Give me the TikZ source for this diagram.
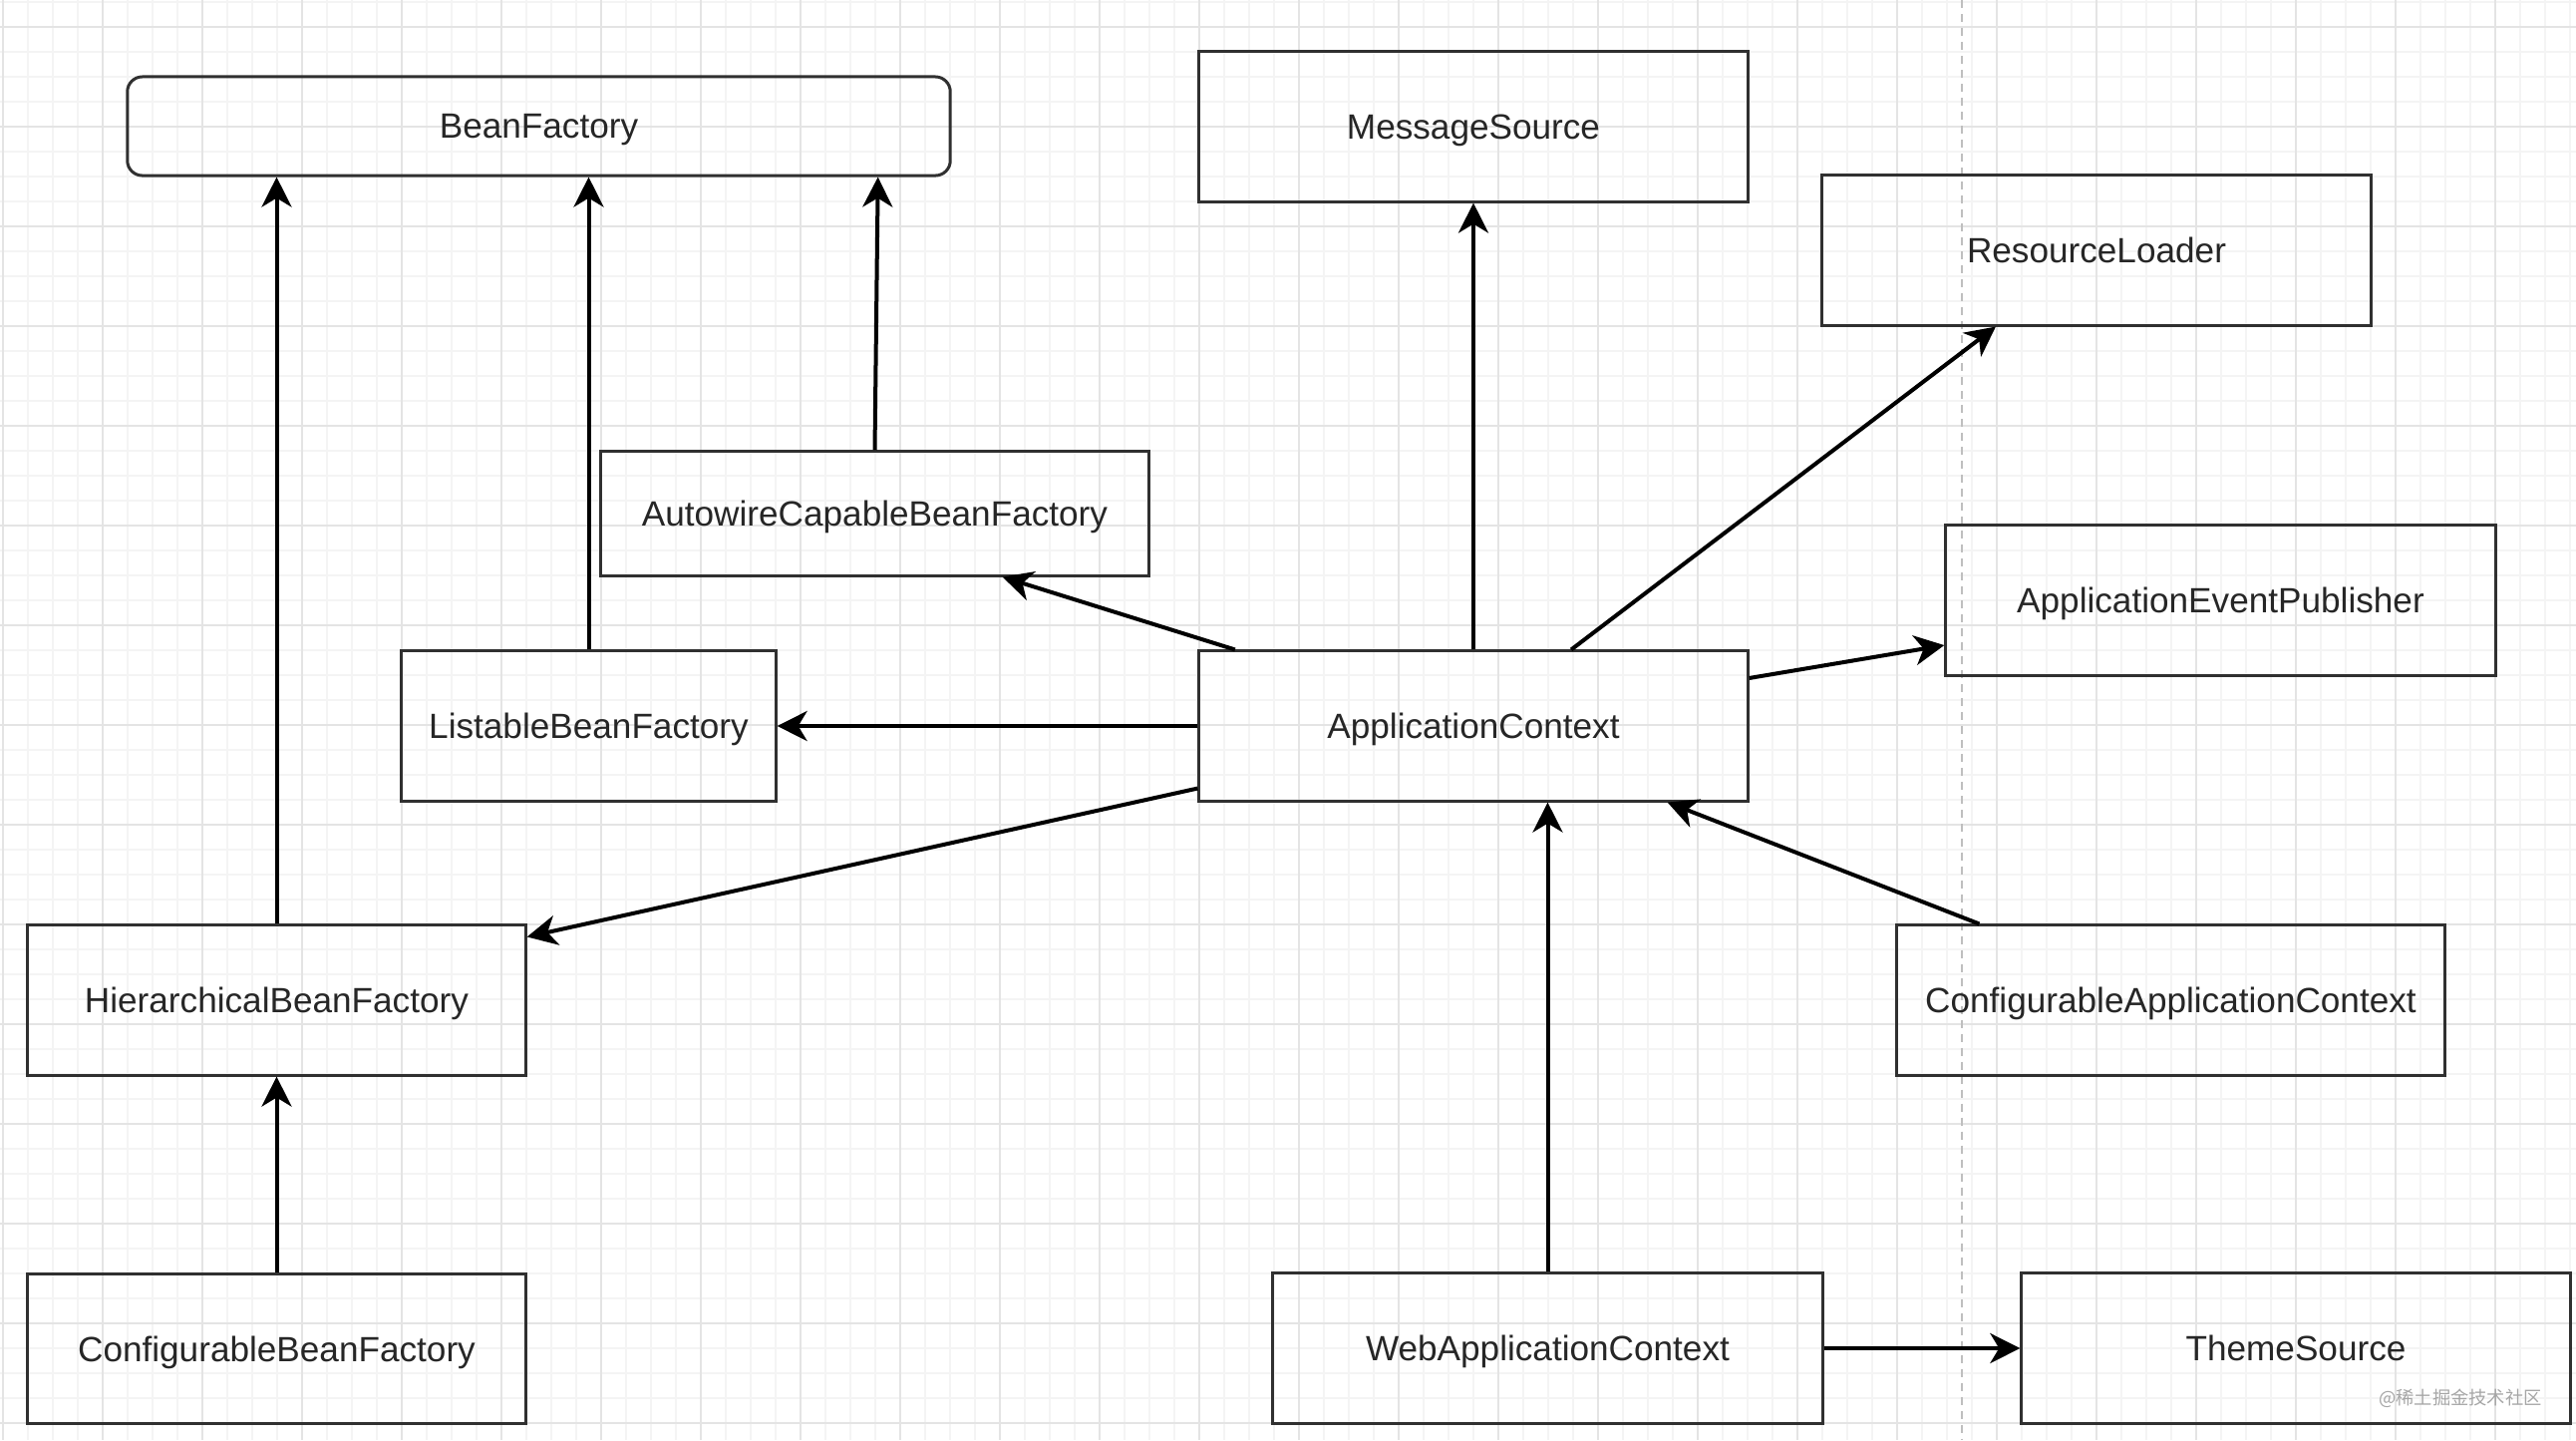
\documentclass[tikz,border=0pt]{standalone}
\usepackage{fontspec}
\setmainfont{Liberation Sans}
\newfontfamily\cjkfont{Noto Sans CJK SC}
\usepackage{xcolor}
\usepackage{tikz}
\usetikzlibrary{arrows.meta, positioning, calc}

\definecolor{gridminor}{HTML}{F4F4F4}
\definecolor{gridmajor}{HTML}{E4E4E4}
\definecolor{boxline}{HTML}{303030}

\begin{document}
\begin{tikzpicture}[x=0.01cm, y=-0.01cm,
    cls/.style={draw=boxline, line width=0.03cm, inner sep=0pt, minimum height=1.5cm,
      text depth=0pt, font=\fontsize{10}{12}\selectfont, text=black!85},
    link/.style={-{Stealth[length=0.3cm, width=0.3cm, inset=0.09cm]}, line width=0.04cm, black}]
  \useasboundingbox (0,0) rectangle (2584,1444);
  \fill[white] (0,0) rectangle (2584,1444);
  % background grid
  \foreach \gx in {3,28,...,2584} \draw[gridminor, line width=0.015cm] (\gx,0) -- (\gx,1444);
  \foreach \gy in {2,27,...,1444} \draw[gridminor, line width=0.015cm] (0,\gy) -- (2584,\gy);
  \foreach \gx in {3,103,...,2584} \draw[gridmajor, line width=0.02cm] (\gx,0) -- (\gx,1444);
  \foreach \gy in {27,127,...,1444} \draw[gridmajor, line width=0.02cm] (0,\gy) -- (2584,\gy);
  \draw[black!25, line width=0.02cm, dash pattern=on 0.08cm off 0.06cm] (1968,0) -- (1968,1444);

  % interfaces
  \node[cls, rounded corners=0.15cm, minimum width=8.25cm, minimum height=0.99cm] (bean) at (540.5,126.5) {BeanFactory};
  \node[cls, minimum width=5.51cm] (msg) at (1478,127) {MessageSource};
  \node[cls, minimum width=5.5cm] (res) at (2103,251) {ResourceLoader};
  \node[cls, minimum width=5.49cm, minimum height=1.24cm] (auto) at (877.5,515) {AutowireCapableBeanFactory};
  \node[cls, minimum width=5.51cm] (event) at (2227.5,602) {ApplicationEventPublisher};
  \node[cls, minimum width=3.75cm] (list) at (590.5,728) {ListableBeanFactory};
  \node[cls, minimum width=5.5cm] (ctx) at (1478,728) {ApplicationContext};
  \node[cls, minimum width=4.99cm] (hier) at (277.5,1003) {HierarchicalBeanFactory};
  \node[cls, minimum width=5.49cm] (confctx) at (2177.5,1003) {ConfigurableApplicationContext};
  \node[cls, minimum width=4.99cm] (confbean) at (277.5,1352.5) {ConfigurableBeanFactory};
  \node[cls, minimum width=5.51cm] (webctx) at (1552.5,1352) {WebApplicationContext};
  \node[cls, minimum width=5.5cm] (theme) at (2303,1352) {ThemeSource};
  \node[font=\cjkfont\fontsize{5.2}{6}\selectfont, text=black!35, inner sep=0pt] (wm) at (2468,1402) {@稀土掘金技术社区};

  % inheritance
  \draw[link] (hier.north) -- (hier.north |- bean.south);
  \draw[link] (list.north) -- (list.north |- bean.south);
  \draw[link] (auto.north) -- ([xshift=3.4cm]bean.south);
  \draw[link] (ctx.north) -- (msg.south);
  \draw[link] ([xshift=0.98cm]ctx.north) -- ([xshift=-1.01cm]res.south);
  \draw[link] ([xshift=-2.39cm]ctx.north) -- ([xshift=1.28cm]auto.south);
  \draw[link] (ctx.west) -- (list.east);
  \draw[link] ([yshift=0.14cm]ctx.south west) -- ([yshift=-0.13cm]hier.north east);
  \draw[link] ([yshift=0.48cm]ctx.east) -- ([yshift=-0.45cm]event.west);
  \draw[link] (confbean.north) -- (hier.south);
  \draw[link] (webctx.north) -- (webctx.north |- ctx.south);
  \draw[link] ([xshift=-1.92cm]confctx.north) -- ([xshift=-0.82cm]ctx.south east);
  \draw[link] (webctx.east) -- (theme.west);
\end{tikzpicture}
\end{document}
